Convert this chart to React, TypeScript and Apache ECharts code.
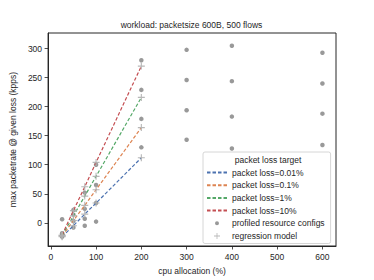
import React, { useEffect, useRef } from "react";
import * as echarts from "echarts";

// Regression model (crosses + dashed lines)
const modelCpu = [25, 50, 75, 100, 200];
const model001 = [-24, -5, 15, 34, 112];
const model01 = [-23, 4, 30, 57, 164];
const model1 = [-22, 12, 46, 80, 216];
const model10 = [-21, 21, 62, 104, 270];

// Profiled resource configs (grey dots)
const profiledCpu = [25, 50, 75, 100, 200, 300, 400, 600];
const profiled001 = [-24, -8, -5, 2, 130, 143, 128, 134];
const profiled01 = [-22, 3, 7, 34, 179, 194, 183, 188];
const profiled1 = [-18, 14, 24, 65, 229, 246, 244, 240];
const profiled10 = [6, 22, 52, 100, 280, 298, 305, 293];

const xTicks = [0, 100, 200, 300, 400, 500, 600];
const yTicks = [0, 50, 100, 150, 200, 250, 300];

const lossNames = ["packet loss=0.01%", "packet loss=0.1%", "packet loss=1%", "packet loss=10%"];
const lossColors = ["#4c72b0", "#dd8452", "#55a868", "#c44e52"];

const FONT = "'Liberation Sans', Arial, sans-serif";
const TXT = "#262626";

const PLUS =
  "path://M-0.16,-1 L0.16,-1 L0.16,-0.16 L1,-0.16 L1,0.16 L0.16,0.16 L0.16,1 L-0.16,1 L-0.16,0.16 L-1,0.16 L-1,-0.16 L-0.16,-0.16 Z";
// legend icons with invisible extent points so the small mark stays small
const DOT_ICON =
  "path://M0,0 L0.001,0 M20,9 L20.001,9 M12,4.5 A2,2 0 1 1 8,4.5 A2,2 0 1 1 12,4.5 Z";
const PLUS_ICON =
  "path://M0,0 L0.001,0 M20,9 L20.001,9 M9.6,1.5 L10.4,1.5 L10.4,4.1 L13,4.1 L13,4.9 L10.4,4.9 L10.4,7.5 L9.6,7.5 L9.6,4.9 L7,4.9 L7,4.1 L9.6,4.1 Z";

export default function App() {
  const ref = useRef<HTMLDivElement>(null);
  useEffect(() => {
    document.body.style.margin = "0";
    if (!ref.current) return;
    const chart = echarts.init(ref.current, undefined, { renderer: "svg" });
    const models = [model001, model01, model1, model10];
    const profiled = [profiled001, profiled01, profiled1, profiled10];

    const dotData: number[][] = [];
    profiled.forEach((arr) => arr.forEach((v, i) => dotData.push([profiledCpu[i], v])));
    const plusData: number[][] = [];
    models.forEach((arr) => arr.forEach((v, i) => plusData.push([modelCpu[i], v])));

    const lineSeries = models.map((arr, k) => ({
      name: lossNames[k],
      type: "line",
      data: arr.map((v, i) => [modelCpu[i], v]),
      showSymbol: false,
      symbol: "none",
      z: 3,
      lineStyle: { color: lossColors[k], width: 1.2, type: [3.5, 2] },
      itemStyle: { color: lossColors[k] },
    }));

    chart.setOption({
      animation: false,
      textStyle: { fontFamily: FONT },
      grid: {
        left: 47,
        top: 33,
        width: 289,
        height: 215,
        show: true,
        borderColor: TXT,
        borderWidth: 1,
        containLabel: false,
      },
      xAxis: {
        type: "value",
        min: -6,
        max: 630,
        name: "cpu allocation (%)",
        nameLocation: "middle",
        nameGap: 20,
        nameTextStyle: { fontSize: 8.5, color: TXT, fontFamily: FONT },
        axisLine: { show: true, onZero: false, lineStyle: { color: TXT, width: 1 } },
        axisTick: { show: true, length: 3.5, customValues: xTicks, lineStyle: { color: TXT, width: 0.8 } },
        axisLabel: { customValues: xTicks, fontSize: 8.5, color: TXT, margin: 6, fontFamily: FONT },
        splitLine: { show: false },
      },
      yAxis: {
        type: "value",
        min: -40,
        max: 327,
        name: "max packetrate @ given loss (kpps)",
        nameLocation: "middle",
        nameGap: 21,
        nameTextStyle: { fontSize: 8.5, color: TXT, fontFamily: FONT },
        axisLine: { show: true, onZero: false, lineStyle: { color: TXT, width: 1 } },
        axisTick: { show: true, length: 3.5, customValues: yTicks, lineStyle: { color: TXT, width: 0.8 } },
        axisLabel: { customValues: yTicks, fontSize: 8.5, color: TXT, margin: 6, fontFamily: FONT },
        splitLine: { show: false },
      },
      legend: {
        orient: "vertical",
        left: 203,
        top: 152,
        padding: [16, 6, 3, 3],
        itemWidth: 20,
        itemHeight: 9,
        itemGap: 3.7,
        backgroundColor: "rgba(255,255,255,0.85)",
        borderColor: "#cccccc",
        borderWidth: 0.8,
        borderRadius: 2,
        textStyle: { fontSize: 8.5, color: TXT, fontFamily: FONT, lineHeight: 9 },
        data: [
          ...lossNames.map((n) => ({ name: n, itemStyle: { opacity: 0 } })),
          { name: "profiled resource configs", icon: DOT_ICON, itemStyle: { color: "#7f7f7f" } },
          { name: "regression model", icon: PLUS_ICON, itemStyle: { color: "#b0b0b0" } },
        ],
      },
      graphic: [
        {
          type: "text",
          x: 191.5,
          y: 25,
          style: {
            text: "workload: packetsize 600B, 500 flows",
            textAlign: "center",
            textVerticalAlign: "middle",
            fontSize: 8.5,
            fill: TXT,
            fontFamily: FONT,
          },
        },
        {
          type: "text",
          x: 268,
          y: 160,
          z: 100,
          style: {
            text: "packet loss target",
            textAlign: "center",
            textVerticalAlign: "middle",
            fontSize: 8.5,
            fill: TXT,
            fontFamily: FONT,
          },
        },
      ],
      series: [
        {
          name: "profiled resource configs",
          type: "scatter",
          data: dotData,
          symbol: "circle",
          symbolSize: 4.5,
          z: 2,
          itemStyle: { color: "#7f7f7f" },
        },
        ...lineSeries,
        {
          name: "regression model",
          type: "scatter",
          data: plusData,
          symbol: PLUS,
          symbolSize: 7,
          z: 4,
          itemStyle: { color: "#b0b0b0", opacity: 0.9 },
        },
      ],
    });
    return () => chart.dispose();
  }, []);
  return <div ref={ref} style={{ width: 374, height: 280 }} />;
}
